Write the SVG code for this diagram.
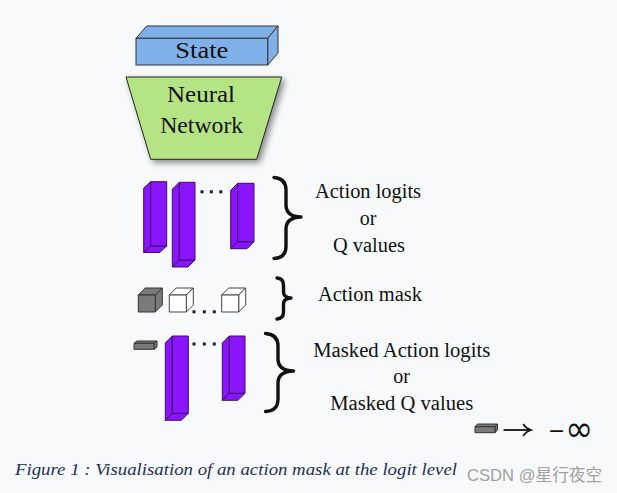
<svg xmlns="http://www.w3.org/2000/svg" width="617" height="493" viewBox="0 0 617 493">
<defs>
<style>
.bar{fill:#8a14fc;stroke:#3d0a6e;stroke-width:1;stroke-linejoin:round}
.gray{fill:#7a7a7a;stroke:#333;stroke-width:1;stroke-linejoin:round}
.white{fill:#fff;stroke:#444;stroke-width:1;stroke-linejoin:round}
.lbl{font-family:"Liberation Serif","DejaVu Serif",serif;font-size:20px;fill:#111;text-anchor:middle}
.big{font-family:"Liberation Serif","DejaVu Serif",serif;font-size:23px;fill:#111;text-anchor:middle}
.brace{fill:none;stroke:#111;stroke-width:3.4;stroke-linecap:round;stroke-linejoin:round}
.dot{fill:#1a1a3a}
</style>
<filter id="sh" x="-20%" y="-20%" width="150%" height="150%">
<feDropShadow dx="3" dy="3" stdDeviation="3" flood-color="#000" flood-opacity="0.45"/>
</filter>
</defs>
<rect width="617" height="493" fill="#f8f9fa"/>

<g id="state">
<polygon points="136,38.3 146.7,26 278,26 267.7,38.3" fill="#80b0ea" stroke="#333" stroke-width="1"/>
<polygon points="267.7,38.3 278,26 278,53 267.7,65" fill="#80b0ea" stroke="#333" stroke-width="1"/>
<rect x="136" y="38.3" width="131.7" height="26.7" fill="#80b0ea" stroke="#333" stroke-width="1"/>
<text class="big" x="201.8" y="58.3" textLength="53" lengthAdjust="spacingAndGlyphs">State</text>
</g>

<g id="neural-network">
<polygon points="126,77 281.7,77 256.7,159.3 150.7,159.3" fill="#b5e485" stroke="#222" stroke-width="1" filter="url(#sh)"/>
<text class="big" x="201" y="101.7" textLength="68" lengthAdjust="spacingAndGlyphs">Neural</text>
<text class="big" x="201.7" y="133" textLength="83" lengthAdjust="spacingAndGlyphs">Network</text>
</g>

<g id="action-logits">
<g id="bar1">
<polygon class="bar" points="150.7,181.7 143.7,188.2 143.7,252.5 150.7,246"/>
<polygon class="bar" points="150.7,246 166.7,246 159.7,252.5 143.7,252.5"/>
<rect class="bar" x="150.7" y="181.7" width="16" height="64.3"/>
</g>
<g id="bar2">
<polygon class="bar" points="179.3,182.3 172.3,189.3 172.3,267 179.3,260"/>
<polygon class="bar" points="179.3,260 195,260 188,267 172.3,267"/>
<rect class="bar" x="179.3" y="182.3" width="15.7" height="77.7"/>
</g>
<g id="bar3">
<polygon class="bar" points="237.7,183.3 230.7,190.3 230.7,248.7 237.7,241.7"/>
<polygon class="bar" points="237.7,241.7 254,241.7 247,248.7 230.7,248.7"/>
<rect class="bar" x="237.7" y="183.3" width="16.3" height="58.4"/>
</g>
<rect class="dot" x="200.5" y="190.3" width="3" height="3"/>
<rect class="dot" x="209.8" y="190.3" width="3" height="3"/>
<rect class="dot" x="219.3" y="190.3" width="3" height="3"/>
</g>

<g id="action-mask">
<g id="cube-gray">
<polygon class="gray" points="138.3,295 145.3,288 162.3,288 155.3,295"/>
<polygon class="gray" points="155.3,295 162.3,288 162.3,305 155.3,312"/>
<rect class="gray" x="138.3" y="295" width="17" height="17"/>
</g>
<g id="cube-white1">
<polygon class="white" points="169.3,295 176.3,288 193.3,288 186.3,295"/>
<polygon class="white" points="186.3,295 193.3,288 193.3,305 186.3,312"/>
<rect class="white" x="169.3" y="295" width="17" height="17"/>
</g>
<g id="cube-white2">
<polygon class="white" points="221.7,295 228.7,288 245.7,288 238.7,295"/>
<polygon class="white" points="238.7,295 245.7,288 245.7,305 238.7,312"/>
<rect class="white" x="221.7" y="295" width="17" height="17"/>
</g>
<rect class="dot" x="192.5" y="310.3" width="3" height="3"/>
<rect class="dot" x="202.8" y="310.3" width="3" height="3"/>
<rect class="dot" x="212.8" y="310.3" width="3" height="3"/>
</g>

<g id="masked-logits">
<g id="small-gray">
<polygon class="gray" points="134,343.3 137,341 157,341 154,343.3"/>
<polygon class="gray" points="154,343.3 157,341 157,347 154,349.3"/>
<rect class="gray" x="134" y="343.3" width="20" height="6"/>
</g>
<g id="bar4">
<polygon class="bar" points="172.3,336 165.3,343 165.3,420.3 172.3,413.3"/>
<polygon class="bar" points="172.3,413.3 188.3,413.3 181.3,420.3 165.3,420.3"/>
<rect class="bar" x="172.3" y="336" width="16" height="77.3"/>
</g>
<g id="bar5">
<polygon class="bar" points="229.3,336 222.3,343 222.3,400.3 229.3,393.3"/>
<polygon class="bar" points="229.3,393.3 245,393.3 238,400.3 222.3,400.3"/>
<rect class="bar" x="229.3" y="336" width="15.7" height="57.3"/>
</g>
<rect class="dot" x="192.5" y="342.5" width="3" height="3"/>
<rect class="dot" x="202.8" y="342.5" width="3" height="3"/>
<rect class="dot" x="212.8" y="342.5" width="3" height="3"/>
</g>

<g id="braces">
<path class="brace" d="M274,177.5 Q286,178.5 286,190 L286,205 Q286,216.5 301,217 Q286,217.5 286,229 L286,246 Q286,258 274,258.5"/>
<path class="brace" d="M277,278 Q283.5,278.5 283.5,285 L283.5,292 Q283.5,297.5 291,298 Q283.5,298.5 283.5,304 L283.5,312 Q283.5,318.5 277,319"/>
<path class="brace" d="M265.5,333.5 Q278,334.5 278,346 L278,359 Q278,370.5 293.5,371 Q278,371.5 278,383 L278,399 Q278,411 265.5,411.5"/>
</g>

<g id="labels">
<text class="lbl" x="368" y="198.3" textLength="106" lengthAdjust="spacingAndGlyphs">Action logits</text>
<text class="lbl" x="368" y="225">or</text>
<text class="lbl" x="369" y="251.5" textLength="72" lengthAdjust="spacingAndGlyphs">Q values</text>
<text class="lbl" x="370" y="301" textLength="104" lengthAdjust="spacingAndGlyphs">Action mask</text>
<text class="lbl" x="401.7" y="356.7" textLength="177" lengthAdjust="spacingAndGlyphs">Masked Action logits</text>
<text class="lbl" x="401.7" y="383.3">or</text>
<text class="lbl" x="401.7" y="410" textLength="143" lengthAdjust="spacingAndGlyphs">Masked Q values</text>
</g>

<g id="legend">
<polygon class="gray" points="475,426.7 477.5,424 497.5,424 495,426.7"/>
<polygon class="gray" points="495,426.7 497.5,424 497.5,430 495,432.7"/>
<rect class="gray" x="475" y="426.7" width="20" height="6"/>
<line x1="503.5" y1="430" x2="530" y2="430" stroke="#111" stroke-width="1.8"/>
<path d="M523.5,424.5 Q526,428.5 531,430 Q526,431.5 523.5,435.5" fill="none" stroke="#111" stroke-width="1.6" stroke-linecap="round"/>
<text x="548" y="441" font-family="DejaVu Sans, serif" fill="#111" textLength="45" lengthAdjust="spacingAndGlyphs"><tspan font-size="22" dy="-3">−</tspan><tspan font-size="36" dy="3">∞</tspan></text>
</g>

<text x="15" y="475" font-family="Liberation Serif, serif" font-style="italic" font-size="17" fill="#22305a" textLength="442" lengthAdjust="spacingAndGlyphs">Figure 1 : Visualisation of an action mask at the logit level</text>
<text x="467" y="481" font-family="Liberation Sans, Noto Sans CJK SC, sans-serif" font-size="16.5" fill="#a0a0a0" textLength="135" lengthAdjust="spacingAndGlyphs">CSDN @星行夜空</text>
</svg>
